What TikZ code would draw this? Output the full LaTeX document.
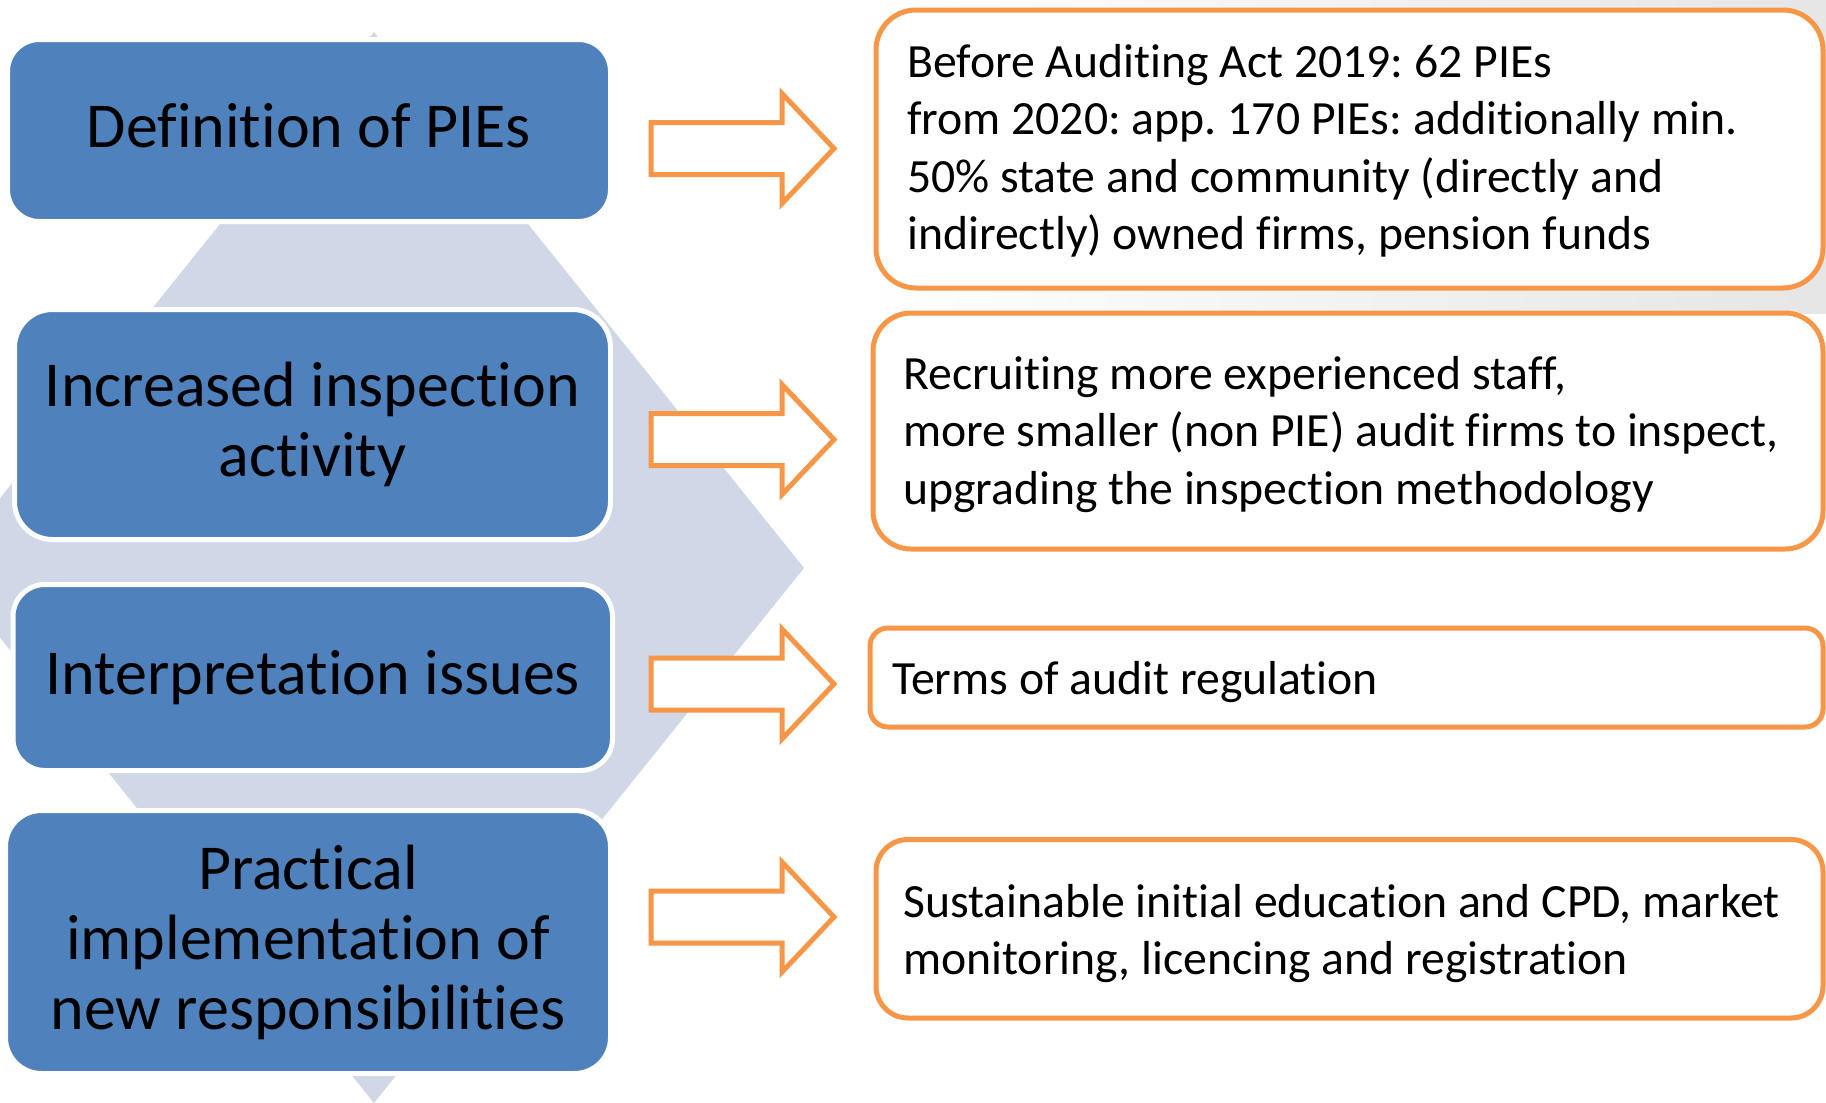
\documentclass[tikz,border=0pt]{standalone}
\usepackage{fontspec}
\setmainfont{Carlito}[Ligatures=NoCommon]
\frenchspacing
\definecolor{boxblue}{HTML}{4F81BD}
\definecolor{diamondgrey}{HTML}{D0D8E8}
\definecolor{accentorange}{HTML}{F79646}

\tikzset{
  topic/.style={rectangle, rounded corners=#1, fill=boxblue, draw=white,
    line width=5pt, align=center, inner sep=0pt,
    font=\fontsize{64}{70}\selectfont},
  detailbox/.style={rectangle, rounded corners=#1, fill=white,
    draw=accentorange, line width=5pt, inner sep=0pt},
  detailtext/.style={anchor=base west, inner sep=0pt,
    font=\fontsize{47.7}{57.5}\selectfont},
  arrowline/.style={draw=accentorange, fill=white, line width=5pt, line join=miter},
  pics/blockarrow/.style={code={
    \draw[arrowline] (0,-26) -- (131,-26) -- (131,-55) -- (183,0)
      -- (131,55) -- (131,26) -- (0,26) -- cycle;}}
}

\newcommand{\detaillines}[1]{\parbox[t]{930pt}{\raggedright #1}}

\begin{document}
\begin{tikzpicture}[x=1pt,y=-1pt]
  \useasboundingbox (0,0) rectangle (1826,1103);
  \clip (0,0) rectangle (1826,1103);
  \fill[white] (0,0) rectangle (1826,1103);

  % soft grey backdrop behind the upper detail boxes
  \shade[left color=white, right color=black!10] (860,0) rectangle (1826,313);

  % large diamond behind the topic column
  \fill[diamondgrey] (374,32) -- (804,568) -- (374,1103) -- (-56,568) -- cycle;

  % topic boxes
  \node[topic=32, minimum width=603pt, minimum height=182pt] (b1) at (309,130.5)
    {Definition of PIEs\vphantom{p}};
  \node[topic=38, minimum width=596pt, minimum height=230pt] (b2) at (312.5,424.5)
    {Increased inspection\\activity};
  \node[topic=32, minimum width=599.5pt, minimum height=186pt] (b3) at (312.75,677.5)
    {Interpretation issues};
  \node[topic=36, minimum width=605pt, minimum height=263pt] (b4) at (308,942)
    {Practical\\implementation of\\new responsibilities};

  % block arrows
  \pic at (651,148.5) {blockarrow};
  \pic at (651,439.5) {blockarrow};
  \pic at (651,684) {blockarrow};
  \pic at (651,917) {blockarrow};

  % detail boxes
  \node[detailbox=40, minimum width=947pt, minimum height=278pt] (r1) at (1349.5,149) {};
  \node[detailbox=38, minimum width=950pt, minimum height=236pt] (r2) at (1348,431) {};
  \node[detailbox=18, minimum width=953pt, minimum height=99pt] (r3) at (1346.5,677.5) {};
  \node[detailbox=32, minimum width=947pt, minimum height=178.5pt] (r4) at (1349.5,928.75) {};

  \node[detailtext] (t1) at (907,77) {\detaillines{Before Auditing Act 2019: 62 PIEs\\
    from 2020: app. 170 PIEs: additionally min.\\
    50\% state and community (directly and\\
    indirectly) owned firms, pension funds}};
  \node[detailtext] (t2) at (903,389) {\detaillines{Recruiting more experienced staff,\\
    more smaller (non PIE) audit firms to inspect,\\
    upgrading the inspection methodology}};
  \node[detailtext] (t3) at (892,694) {\detaillines{Terms of audit regulation}};
  \node[detailtext] (t4) at (903,917) {\detaillines{Sustainable initial education and CPD, market\\
    monitoring, licencing and registration}};
\end{tikzpicture}
\end{document}
